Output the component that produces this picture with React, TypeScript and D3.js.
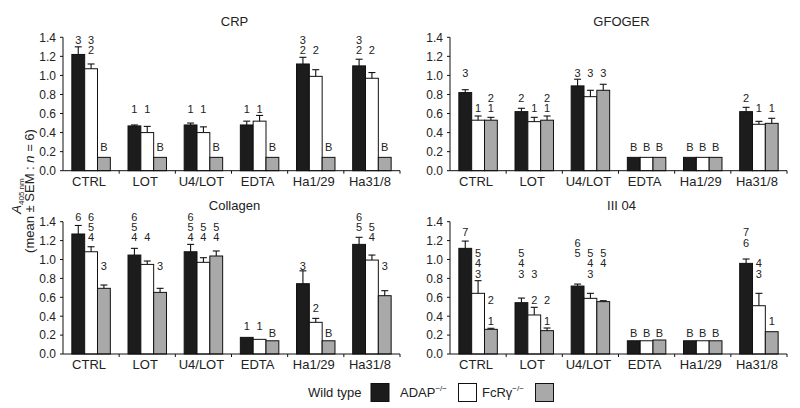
import React from 'react';
import * as d3 from 'd3';

const categories = ['CTRL', 'LOT', 'U4/LOT', 'EDTA', 'Ha1/29', 'Ha31/8'];
const seriesKeys = ['wt', 'adap', 'fcr'];
const yTicks = [0, 0.2, 0.4, 0.6, 0.8, 1.0, 1.2, 1.4];

type N = number | null;

// CRP
const crpWT = [1.22, 0.47, 0.48, 0.48, 1.12, 1.10];
const crpWTErr: N[] = [1.30, 0.48, 0.50, 0.52, 1.19, 1.17];
const crpADAP = [1.07, 0.40, 0.40, 0.52, 0.99, 0.97];
const crpADAPErr: N[] = [1.12, 0.465, 0.46, 0.58, 1.06, 1.03];
const crpFcR = [0.14, 0.14, 0.14, 0.14, 0.14, 0.14];
const crpFcRErr: N[] = [null, null, null, null, null, null];
const crpLabels: [number, number, string, number][] = [
  [0, 0, '3', 1.372], [0, 1, '3', 1.372], [0, 1, '2', 1.267], [0, 2, 'B', 0.252],
  [1, 0, '1', 0.648], [1, 1, '1', 0.648], [1, 2, 'B', 0.252],
  [2, 0, '1', 0.648], [2, 1, '1', 0.648], [2, 2, 'B', 0.252],
  [3, 0, '1', 0.648], [3, 1, '1', 0.648], [3, 2, 'B', 0.252],
  [4, 0, '3', 1.372], [4, 0, '2', 1.267], [4, 1, '2', 1.267], [4, 2, 'B', 0.252],
  [5, 0, '3', 1.372], [5, 0, '2', 1.267], [5, 1, '2', 1.267], [5, 2, 'B', 0.252],
];

// GFOGER
const gfoWT = [0.82, 0.62, 0.89, 0.14, 0.14, 0.62];
const gfoWTErr: N[] = [0.85, 0.655, 0.96, null, null, 0.665];
const gfoADAP = [0.53, 0.515, 0.777, 0.14, 0.14, 0.487];
const gfoADAPErr: N[] = [0.574, 0.56, 0.844, null, null, 0.518];
const gfoFcR = [0.53, 0.53, 0.844, 0.14, 0.14, 0.497];
const gfoFcRErr: N[] = [0.56, 0.574, 0.907, null, null, 0.55];
const gfoLabels: [number, number, string, number][] = [
  [0, 0, '3', 1.03], [0, 1, '1', 0.654], [0, 2, '2', 0.767], [0, 2, '1', 0.654],
  [1, 0, '2', 0.767], [1, 1, '1', 0.654], [1, 2, '2', 0.767], [1, 2, '1', 0.654],
  [2, 0, '3', 1.03], [2, 1, '3', 1.03], [2, 2, '3', 1.03],
  [3, 0, 'B', 0.252], [3, 1, 'B', 0.252], [3, 2, 'B', 0.252],
  [4, 0, 'B', 0.252], [4, 1, 'B', 0.252], [4, 2, 'B', 0.252],
  [5, 0, '2', 0.767], [5, 1, '1', 0.654], [5, 2, '1', 0.654],
];

// Collagen
const colWT = [1.27, 1.047, 1.082, 0.176, 0.744, 1.16];
const colWTErr: N[] = [1.36, 1.118, 1.16, null, 0.88, 1.235];
const colADAP = [1.082, 0.948, 0.97, 0.155, 0.335, 0.994];
const colADAPErr: N[] = [1.135, 0.984, 1.019, null, 0.377, 1.047];
const colFcR = [0.695, 0.652, 1.037, 0.14, 0.14, 0.617];
const colFcRErr: N[] = [0.73, 0.695, 1.09, null, null, 0.67];
const colLabels: [number, number, string, number][] = [
  [0, 0, '6', 1.446], [0, 1, '6', 1.446], [0, 1, '5', 1.34], [0, 1, '4', 1.234], [0, 2, '3', 0.934],
  [1, 0, '6', 1.446], [1, 0, '5', 1.34], [1, 0, '4', 1.234], [1, 1, '4', 1.234], [1, 2, '3', 0.934],
  [2, 0, '6', 1.446], [2, 0, '5', 1.34], [2, 0, '4', 1.234], [2, 1, '5', 1.34], [2, 1, '4', 1.234],
  [2, 2, '5', 1.34], [2, 2, '4', 1.234],
  [3, 0, '1', 0.296], [3, 1, '1', 0.296], [3, 2, 'B', 0.219],
  [4, 0, '3', 0.931], [4, 1, '2', 0.483], [4, 2, 'B', 0.219],
  [5, 0, '6', 1.446], [5, 0, '5', 1.34], [5, 1, '5', 1.34], [5, 1, '4', 1.234],
  [5, 2, '3', 0.934],
];

// III 04
const iiiWT = [1.118, 0.543, 0.719, 0.14, 0.14, 0.959];
const iiiWTErr: N[] = [1.195, 0.592, 0.74, null, null, 1.005];
const iiiADAP = [0.642, 0.413, 0.589, 0.14, 0.14, 0.511];
const iiiADAPErr: N[] = [0.776, 0.494, 0.642, null, null, 0.642];
const iiiFcR = [0.261, 0.247, 0.554, 0.148, 0.14, 0.236];
const iiiFcRErr: N[] = [0.272, 0.275, 0.564, null, null, null];
const iiiLabels: [number, number, string, number][] = [
  [0, 0, '7', 1.294], [0, 1, '5', 1.065], [0, 1, '4', 0.959], [0, 1, '3', 0.843],
  [0, 2, '2', 0.571], [0, 2, '1', 0.349],
  [1, 0, '5', 1.065], [1, 0, '4', 0.959], [1, 0, '3', 0.843], [1, 1, '3', 0.843],
  [1, 1, '2', 0.571], [1, 2, '2', 0.571], [1, 2, '1', 0.349],
  [2, 0, '6', 1.171], [2, 0, '5', 1.065], [2, 1, '5', 1.065], [2, 1, '4', 0.959],
  [2, 1, '3', 0.843], [2, 2, '5', 1.065], [2, 2, '4', 0.959],
  [3, 0, 'B', 0.219], [3, 1, 'B', 0.219], [3, 2, 'B', 0.219],
  [4, 0, 'B', 0.219], [4, 1, 'B', 0.219], [4, 2, 'B', 0.219],
  [5, 0, '7', 1.294], [5, 0, '6', 1.171], [5, 1, '4', 0.959], [5, 1, '3', 0.843],
  [5, 2, '1', 0.349],
];

const FILLS = ['#1c1c1c', '#ffffff', '#a9a9a9'];
const FONT = '"Liberation Sans", Arial, Helvetica, sans-serif';
const INK = '#222';

interface PanelProps {
  title: string;
  x0: number;
  x1: number;
  yBase: number;
  yTop: number;
  titleY: number;
  values: number[][];
  errors: N[][];
  labels: [number, number, string, number][];
}

const Panel: React.FC<PanelProps> = ({ title, x0, x1, yBase, yTop, titleY, values, errors, labels }) => {
  const y = d3.scaleLinear().domain([0, 1.4]).range([yBase, yTop]);
  const x = d3.scaleBand<string>().domain(categories).range([x0, x1]).padding(0);
  const bw = x.bandwidth();
  const groupW = bw * 0.685;
  const off = (bw - groupW) / 2;
  const xs = d3.scaleBand<string>().domain(seriesKeys).range([0, groupW]).padding(0);
  const barW = xs.bandwidth();
  const cx = (ci: number, si: number) => (x(categories[ci]) as number) + off + (xs(seriesKeys[si]) as number) + barW / 2;

  return (
    <g>
      <text x={(x0 + x1) / 2 + 3} y={titleY} textAnchor="middle" fontSize={13} fill={INK}>{title}</text>
      {/* bars */}
      {values.map((vals, si) =>
        vals.map((v, ci) => (
          <rect
            key={`b${si}-${ci}`}
            x={cx(ci, si) - barW / 2}
            y={y(v)}
            width={barW}
            height={yBase - y(v)}
            fill={FILLS[si]}
            stroke="#111"
            strokeWidth={1}
          />
        ))
      )}
      {/* error bars (upper half only) */}
      {errors.map((errs, si) =>
        errs.map((e, ci) =>
          e == null ? null : (
            <g key={`e${si}-${ci}`} stroke="#111" strokeWidth={1.1}>
              <line x1={cx(ci, si)} x2={cx(ci, si)} y1={y(values[si][ci])} y2={y(e)} />
              <line x1={cx(ci, si) - 3.5} x2={cx(ci, si) + 3.5} y1={y(e)} y2={y(e)} />
            </g>
          )
        )
      )}
      {/* significance labels */}
      {labels.map(([ci, si, t, v], i) => (
        <text key={`l${i}`} x={cx(ci, si)} y={y(v)} dy="0.36em" textAnchor="middle" fontSize={11} fill={INK}>{t}</text>
      ))}
      {/* y axis */}
      <line x1={x0} x2={x0} y1={y(1.4)} y2={yBase} stroke="#111" />
      {yTicks.map((t) => (
        <g key={`yt${t}`}>
          <line x1={x0 - 3} x2={x0} y1={y(t)} y2={y(t)} stroke="#111" />
          <text x={x0 - 7} y={y(t)} dy="0.36em" textAnchor="end" fontSize={12} fill={INK}>{d3.format('.1f')(t)}</text>
        </g>
      ))}
      {/* x axis */}
      <line x1={x0} x2={x1} y1={yBase} y2={yBase} stroke="#111" />
      {categories.map((c) => (
        <g key={`xt${c}`}>
          <line x1={(x(c) as number) + bw} x2={(x(c) as number) + bw} y1={yBase} y2={yBase + 3} stroke="#111" />
          <text x={(x(c) as number) + bw / 2 - 2} y={yBase + 15} textAnchor="middle" fontSize={13} fill={INK}>{c}</text>
        </g>
      ))}
    </g>
  );
};

export default function App() {
  const topBase = 170.7, topTop = 37.3;
  const botBase = 354, botTop = 221.7;
  return (
    <svg width={800} height={408} style={{ position: 'absolute', left: 0, top: 0, background: '#fff' }} fontFamily={FONT}>
      <rect width={800} height={408} fill="#fff" />
      <Panel title="CRP" x0={63} x1={400} yBase={topBase} yTop={topTop} titleY={25.5}
        values={[crpWT, crpADAP, crpFcR]} errors={[crpWTErr, crpADAPErr, crpFcRErr]} labels={crpLabels} />
      <Panel title="GFOGER" x0={450} x1={787} yBase={topBase} yTop={topTop} titleY={25.5}
        values={[gfoWT, gfoADAP, gfoFcR]} errors={[gfoWTErr, gfoADAPErr, gfoFcRErr]} labels={gfoLabels} />
      <Panel title="Collagen" x0={63} x1={400} yBase={botBase} yTop={botTop} titleY={209.5}
        values={[colWT, colADAP, colFcR]} errors={[colWTErr, colADAPErr, colFcRErr]} labels={colLabels} />
      <Panel title="III 04" x0={450} x1={787} yBase={botBase} yTop={botTop} titleY={209.5}
        values={[iiiWT, iiiADAP, iiiFcR]} errors={[iiiWTErr, iiiADAPErr, iiiFcRErr]} labels={iiiLabels} />

      {/* y axis title */}
      <g transform="translate(21,196) rotate(-90)">
        <text textAnchor="middle" fontSize={13} fill={INK}>
          <tspan fontStyle="italic">A</tspan>
          <tspan fontSize={8} dy={3}>405 nm</tspan>
        </text>
      </g>
      <g transform="translate(34,191) rotate(-90)">
        <text textAnchor="middle" fontSize={13} fill={INK}>
          (mean ± SEM : <tspan fontStyle="italic">n</tspan> = 6)
        </text>
      </g>

      {/* legend */}
      <g fontSize={13} fill={INK}>
        <text x={308} y={397}>Wild type</text>
        <rect x={371} y={383.5} width={18} height={18} fill={FILLS[0]} stroke="#111" />
        <text x={400} y={397}>ADAP<tspan fontSize={8} dy={-6}>−/−</tspan></text>
        <rect x={458.5} y={383.5} width={18} height={18} fill={FILLS[1]} stroke="#111" />
        <text x={482} y={397}>FcRγ<tspan fontSize={8} dy={-6}>−/−</tspan></text>
        <rect x={535.5} y={383.5} width={18} height={18} fill={FILLS[2]} stroke="#111" />
      </g>
    </svg>
  );
}
